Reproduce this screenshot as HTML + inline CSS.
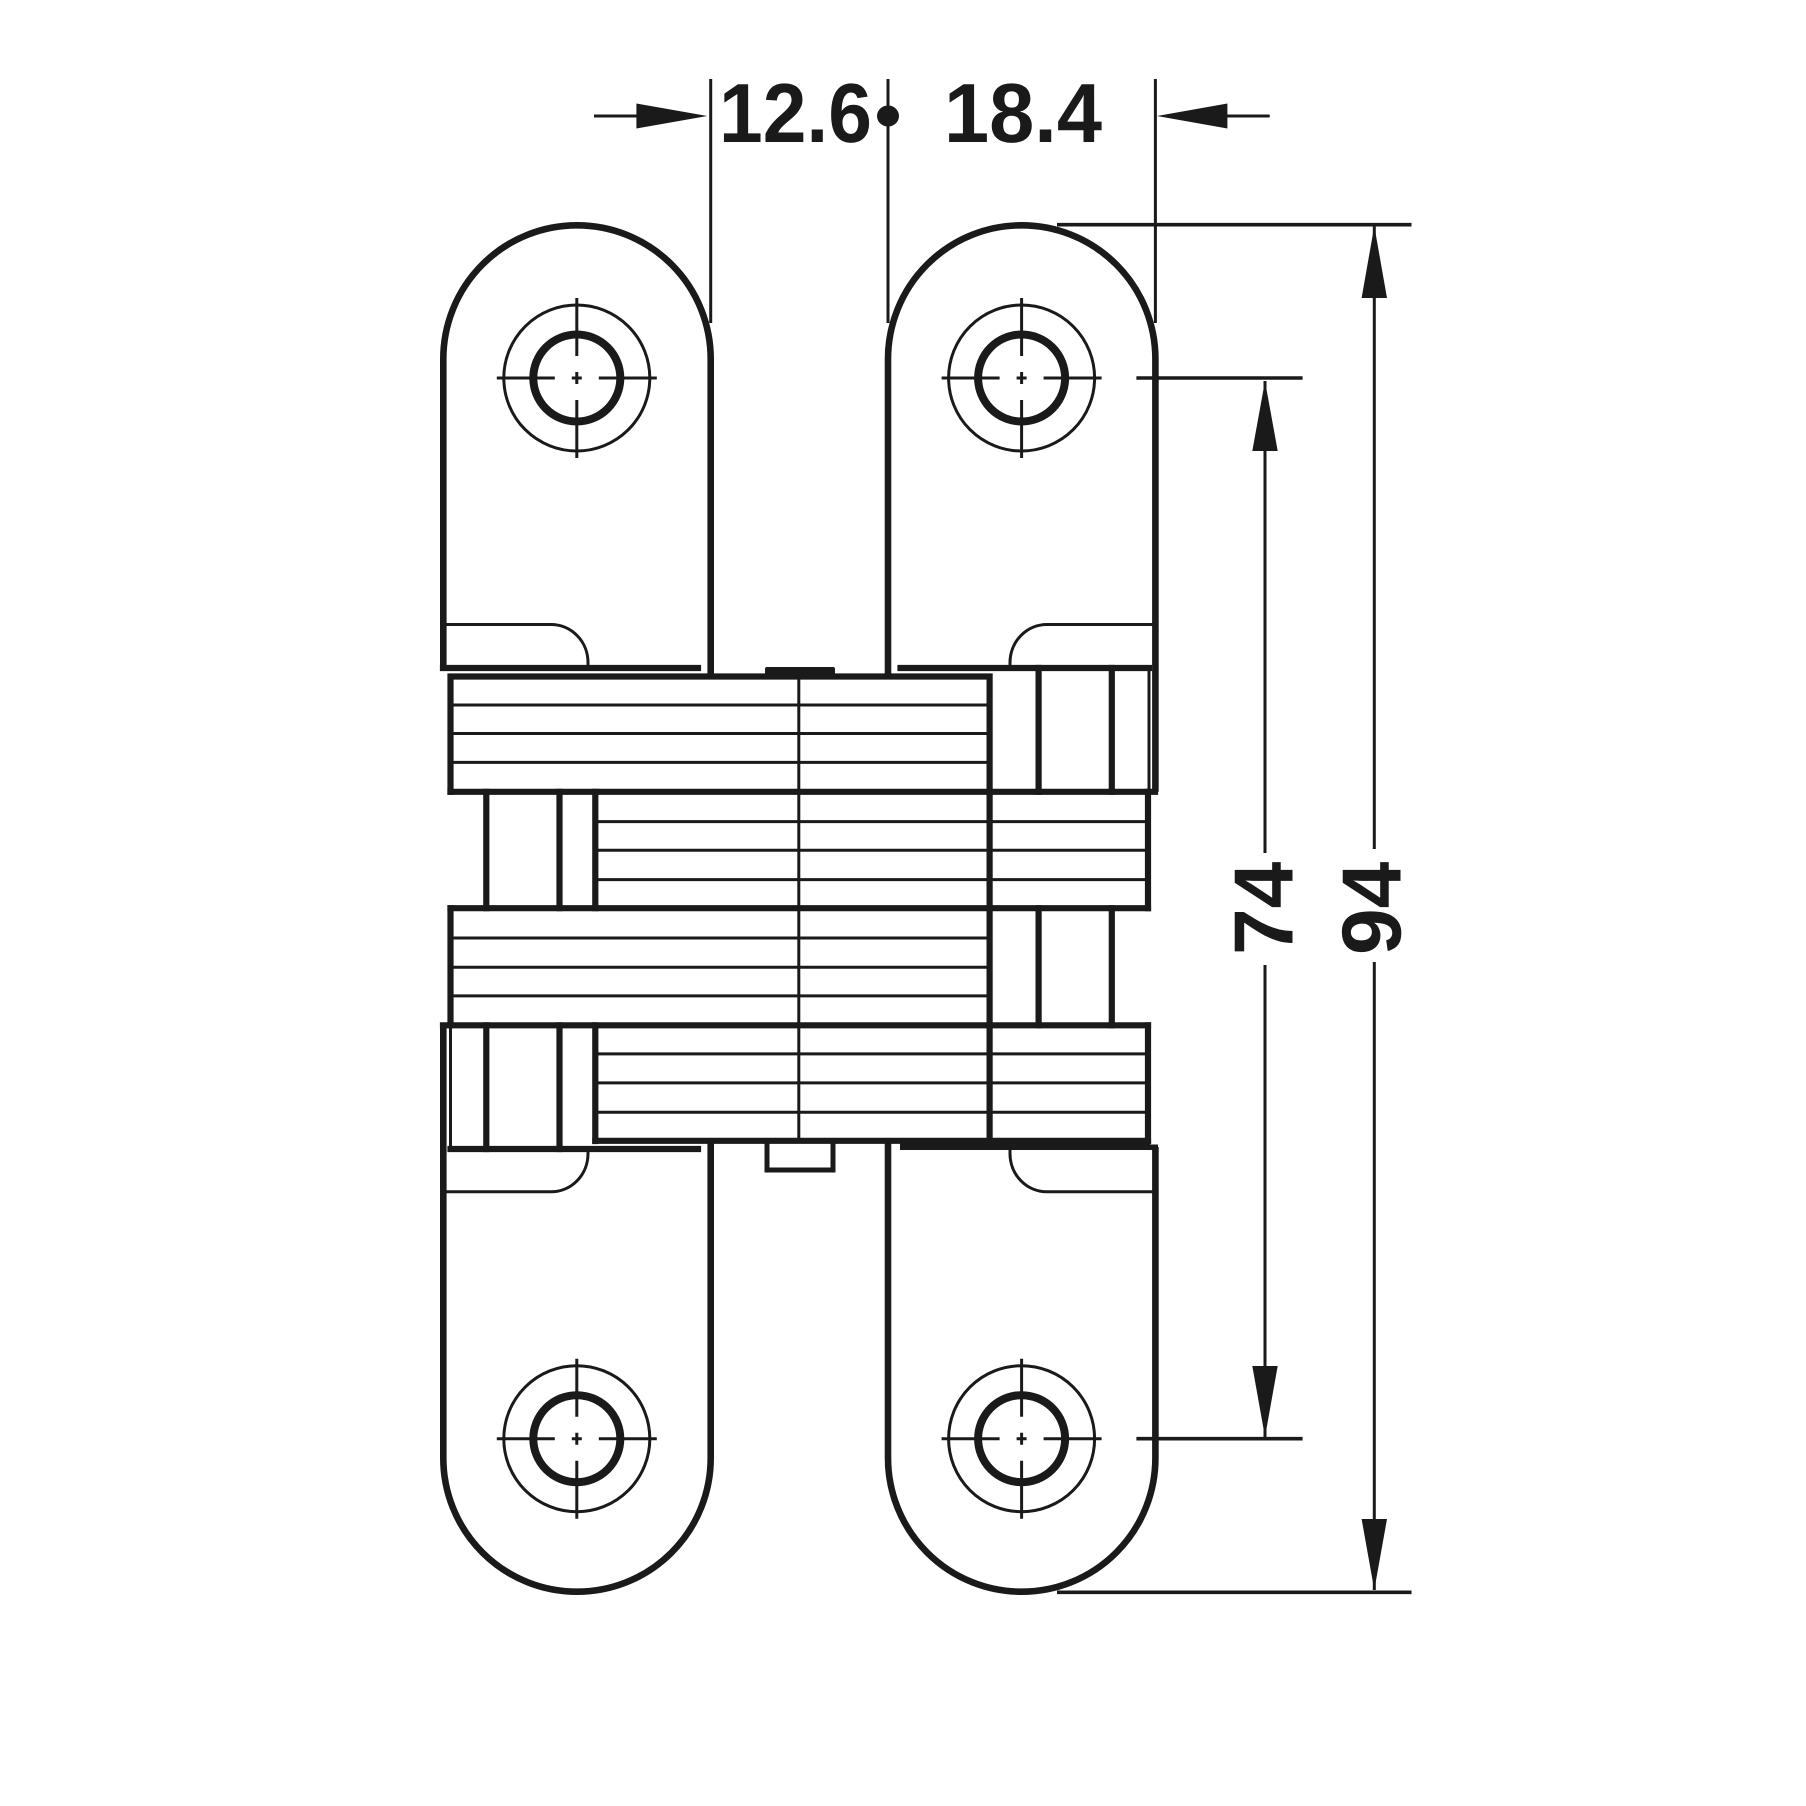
<!DOCTYPE html>
<html><head><meta charset="utf-8"><style>html,body{margin:0;padding:0;background:#fff}svg{display:block}text{text-rendering:geometricPrecision}</style></head><body>
<svg xmlns="http://www.w3.org/2000/svg" width="1806" height="1806" viewBox="0 0 1806 1806" fill="none" stroke="#1a1a1a" stroke-linecap="butt">
<defs>
<g id="hole">
<circle r="73" stroke-width="3"/>
<circle r="43.5" stroke-width="8"/>
<path stroke-width="3" d="M-80 0H-22M-5 0H5M22 0H80M0 -80V-22M0 -6V6M0 22V80"/>
</g>
</defs>
<!-- lugs -->
<g stroke-width="6.6">
<path d="M443.3 668V359A133.7 133.7 0 0 1 710.7 359V678"/>
<path d="M888 678V359A133.7 133.7 0 0 1 1155.4 359V791.8"/>
<path d="M443.3 1025V1458A133.7 133.7 0 0 0 710.7 1458V1141"/>
<path d="M888 1141V1458A133.7 133.7 0 0 0 1155.4 1458V1147"/>
</g>
<use href="#hole" x="576.8" y="378"/>
<use href="#hole" x="1021.6" y="378"/>
<use href="#hole" x="576.8" y="1438.7"/>
<use href="#hole" x="1021.6" y="1438.7"/>
<!-- lug inner details -->
<g stroke-width="3">
<path d="M443 624.5H551A37 38 0 0 1 588 662.5V668"/>
<path d="M1155 624.5H1047A37 38 0 0 0 1010 662.5V668"/>
<path d="M443 1191.8H551A37 38 0 0 0 588 1153.8V1149"/>
<path d="M1155 1191.8H1047A37 38 0 0 1 1010 1153.8V1149"/>
</g>
<!-- body thick lines -->
<g stroke-width="6.2" stroke-linecap="square">
<path d="M443 668H698M900.5 668H1149"/>
<path d="M450.5 676.5H989.6V791.8M450.5 676.5V791.8"/>
<path d="M450.5 791.8H1155"/>
<path d="M595.3 791.8V908.2M595.3 1025.3V1141M989.6 791.8V1141"/>
<path d="M1148 791.8V908.2M1148 1025.3V1141"/>
<path d="M450.5 908.2H1148"/>
<path d="M450.5 908.2V1025.3"/>
<path d="M443 1025.3H1148"/>
<path d="M595.3 1140.8H1148"/>
<path d="M450.5 1149H698"/>
<path d="M1038.6 668V791.8M1111.8 668V791.8M1038.6 908.2V1025.3M1111.8 908.2V1025.3"/>
<path d="M486.3 791.8V908.2M559.5 791.8V908.2M486.3 1025.3V1149M559.5 1025.3V1149"/>
<path stroke-width="5" d="M767 1145V1170H833V1145"/>
</g>
<rect x="765" y="667" width="70" height="9" fill="#1a1a1a" stroke="none" rx="2"/>
<rect x="900" y="1139" width="250" height="11" fill="#1a1a1a" stroke="none"/>
<rect x="1148" y="1144.5" width="10" height="5.5" fill="#1a1a1a" stroke="none"/>
<!-- thin lines -->
<g stroke-width="3">
<path d="M450.5 705H989.6M450.5 733.5H989.6M450.5 762.4H989.6"/>
<path d="M595.3 821.6H1148M595.3 850.2H1148M595.3 879.6H1148"/>
<path d="M450.5 938H989.6M450.5 967.3H989.6M450.5 995.9H989.6"/>
<path d="M595.3 1053.9H1148M595.3 1082.9H1148M595.3 1112.2H1148"/>
<path d="M798.8 676V1141"/>
<path d="M1149 668V791.8M450.5 1025.3V1149"/>
</g>
<!-- dimension lines -->
<g stroke-width="3">
<path d="M710.7 79V323M888 79V323M1155.4 79V323"/>
<path d="M594 116H640M1225 116H1269.7"/>
<path d="M1265 381V853M1265 965V1437"/>
<path d="M1374.3 226V849M1374.3 962V1590"/>
</g>
<g stroke-width="3.6">
<path d="M1057 224.7H1411.5M1057 1592.3H1411.5M1136.4 378H1302.6M1136.4 1438.7H1302.6"/>
</g>
<g fill="#1a1a1a" stroke="none">
<path d="M707.3 116L636.4 103.5V128.5Z"/>
<path d="M1157 116L1227.4 103.5V128.5Z"/>
<path d="M1374.3 226L1361.6 298H1387Z"/>
<path d="M1265 381L1252.3 451H1277.7Z"/>
<path d="M1265 1437L1252.3 1366H1277.7Z"/>
<path d="M1374.3 1590L1361.6 1519H1387Z"/>
<ellipse cx="888" cy="116" rx="11" ry="10.5"/>
</g>
<g fill="#1a1a1a" stroke="none" font-family="'Liberation Sans',sans-serif" font-weight="700" font-size="84">
<text x="719" y="142" textLength="153" lengthAdjust="spacingAndGlyphs">12.6</text>
<text x="944" y="142" textLength="158" lengthAdjust="spacingAndGlyphs">18.4</text>
<text transform="translate(1292.7 955) rotate(-90)" textLength="93.4">74</text>
<text transform="translate(1400.3 955) rotate(-90)" textLength="93.4">94</text>
</g>
</svg>
</body></html>
